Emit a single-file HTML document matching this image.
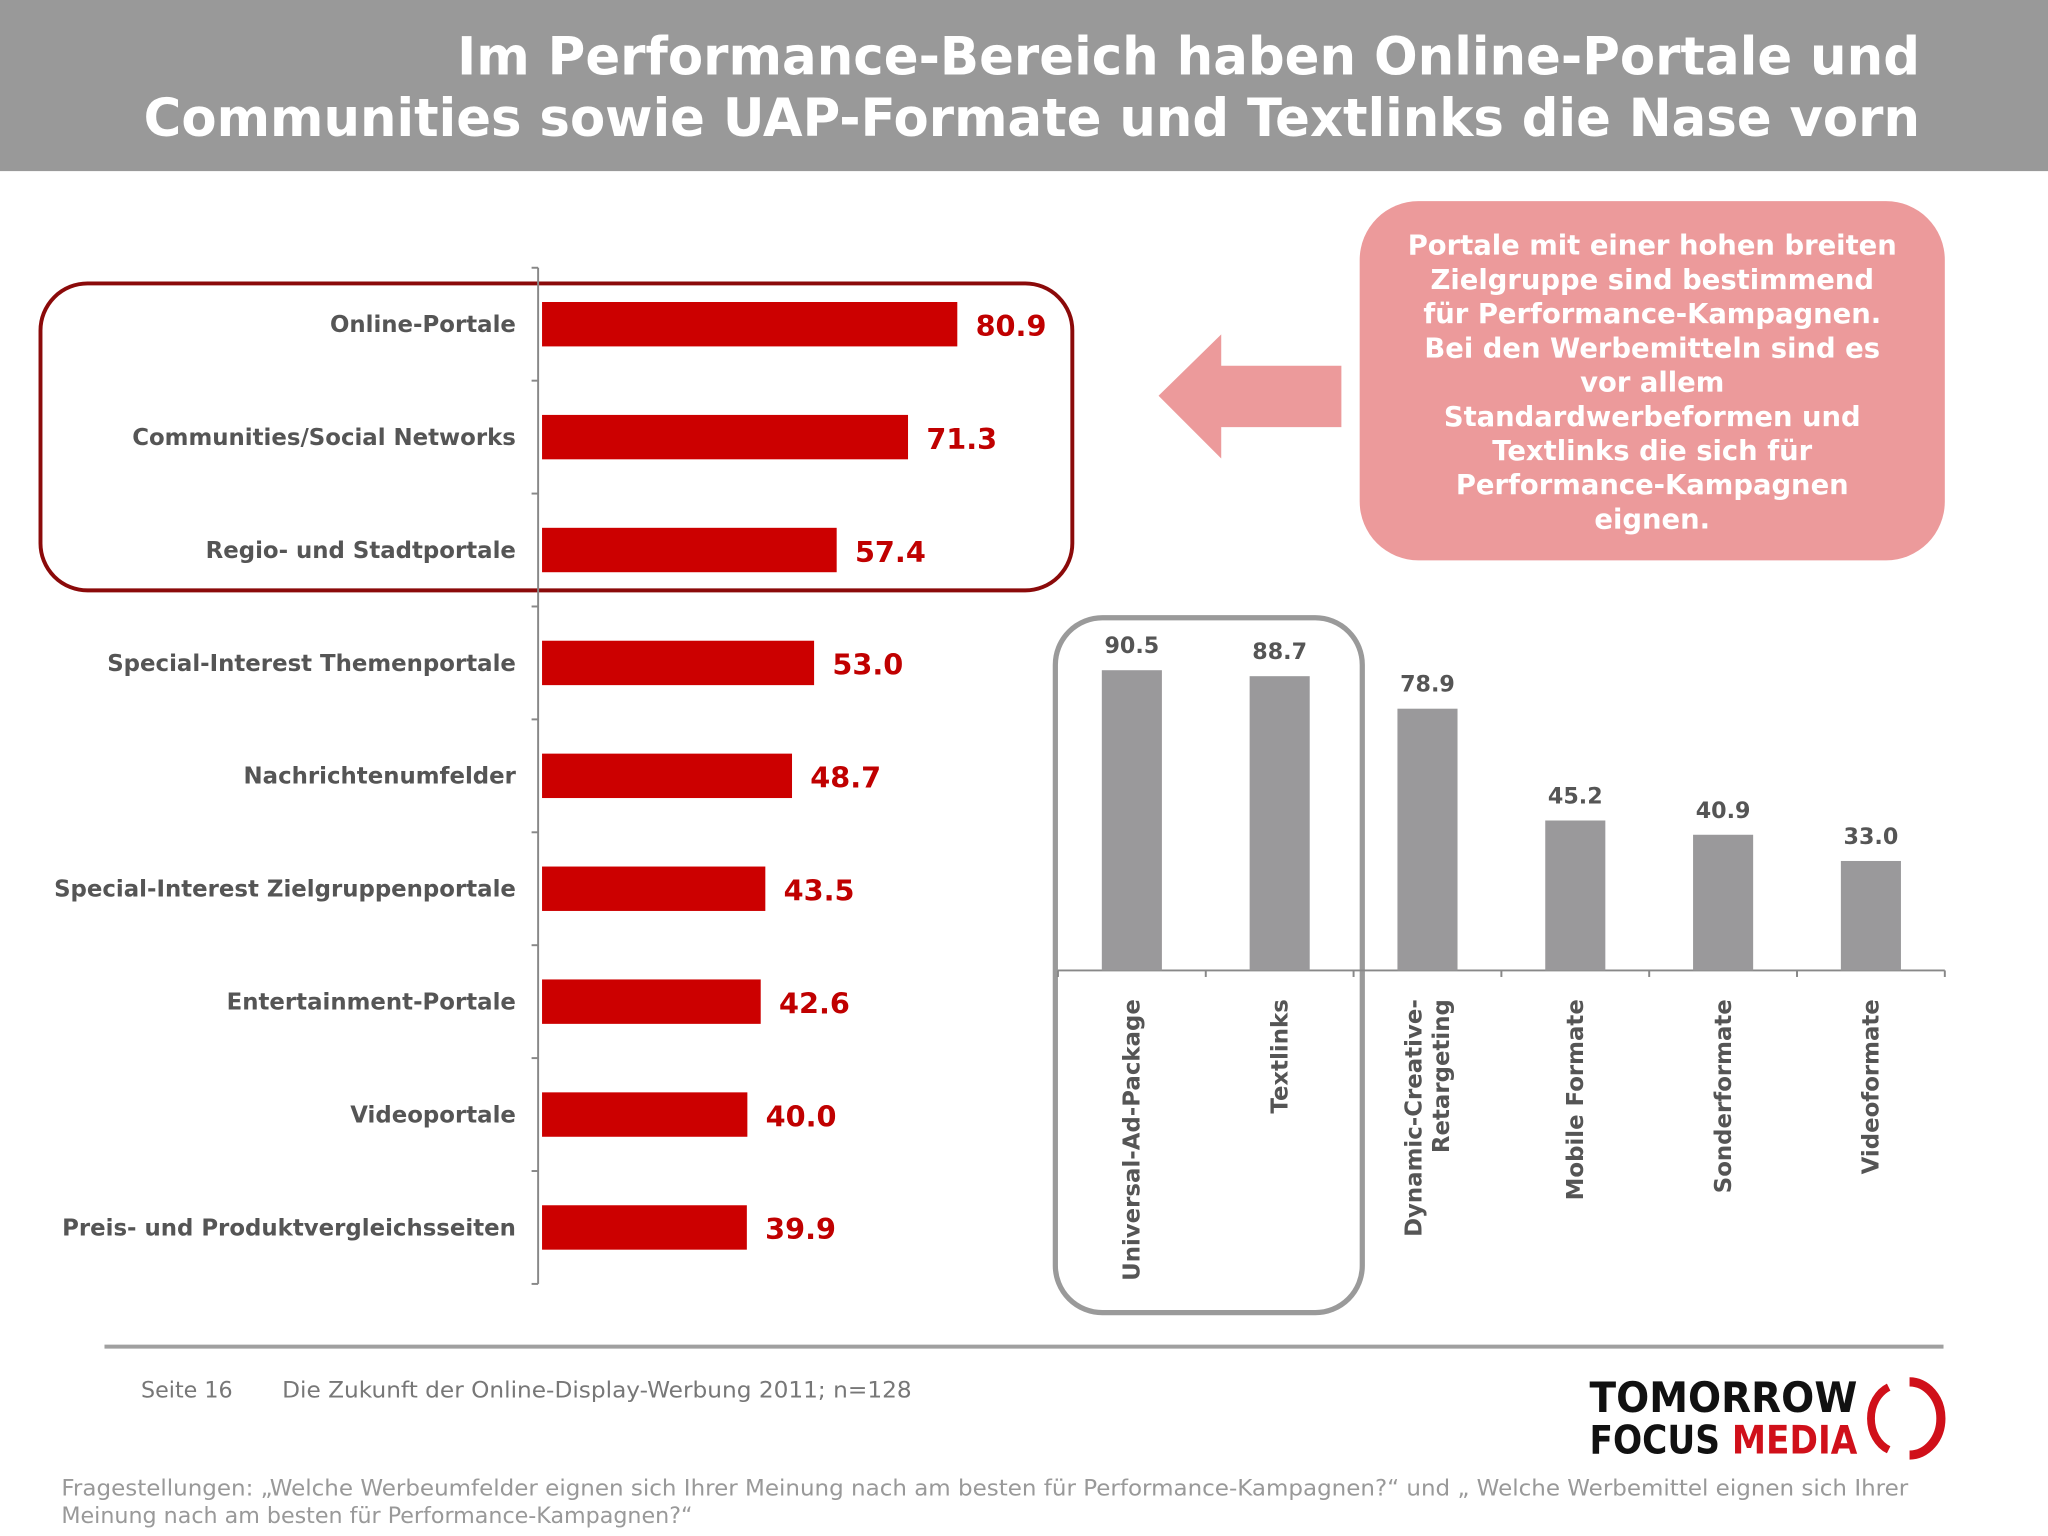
<!DOCTYPE html>
<html><head><meta charset="utf-8"><style>
html,body{margin:0;padding:0;background:#fff;}
svg{display:block;}
text{font-family:"DejaVu Sans","Liberation Sans",sans-serif;}
</style></head><body>
<svg id="s" width="2048" height="1536" viewBox="0 0 1568 1176" xmlns="http://www.w3.org/2000/svg">
<rect x="0" y="0" width="1568" height="131" fill="#999999"/>
<text x="1470" y="57" text-anchor="end" font-size="40" font-weight="bold" fill="#fff" textLength="1120" lengthAdjust="spacingAndGlyphs">Im Performance-Bereich haben Online-Portale und</text>
<text x="1470" y="104" text-anchor="end" font-size="40" font-weight="bold" fill="#fff" textLength="1360" lengthAdjust="spacingAndGlyphs">Communities sowie UAP-Formate und Textlinks die Nase vorn</text>

<rect x="31" y="217" width="790" height="235" rx="36" fill="none" stroke="#8b0a0a" stroke-width="3"/>
<rect x="1041" y="154" width="448" height="275" rx="45" fill="#ec9a9b"/>
<g id="callout" font-size="21" font-weight="bold" fill="#fff" text-anchor="middle"></g>
<polygon points="887,303 935,256 935,280 1027,280 1027,327 935,327 935,351" fill="#ec9a9b"/>
<rect x="808" y="473" width="235" height="532" rx="36" fill="none" stroke="#9a9a9a" stroke-width="4"/>

<g id="left"></g>
<g id="right"></g>

<line x1="80" y1="1031" x2="1488" y2="1031" stroke="#a0a0a0" stroke-width="3"/>
<text x="108" y="1070" font-size="17" fill="#777" font-family="Liberation Sans">Seite 16</text>
<text x="216" y="1070" font-size="17" fill="#777" font-family="Liberation Sans" textLength="482" lengthAdjust="spacingAndGlyphs">Die Zukunft der Online-Display-Werbung 2011; n=128</text>
<text x="1217" y="1081" font-size="32" font-weight="bold" fill="#111" textLength="205" lengthAdjust="spacingAndGlyphs" font-family="Liberation Sans">TOMORROW</text>
<text x="1217" y="1113" font-size="30" font-weight="bold" fill="#111" textLength="205" lengthAdjust="spacingAndGlyphs" font-family="Liberation Sans">FOCUS <tspan fill="#d0101a">MEDIA</tspan></text>
<path d="M1446,1062 A22,26 0 0 0 1446,1110" fill="none" stroke="#d0101a" stroke-width="6"/>
<path d="M1462,1058 A24,28 0 0 1 1462,1114" fill="none" stroke="#d0101a" stroke-width="7"/>
<text x="47" y="1145" font-size="17" fill="#999" font-family="Liberation Sans" textLength="1414" lengthAdjust="spacingAndGlyphs">Fragestellungen: „Welche Werbeumfelder eignen sich Ihrer Meinung nach am besten für Performance-Kampagnen?“ und „ Welche Werbemittel eignen sich Ihrer</text>
<text x="47" y="1166" font-size="17" fill="#999" font-family="Liberation Sans">Meinung nach am besten für Performance-Kampagnen?“</text>
</svg>
<script>
const leftCategories=["Online-Portale","Communities/Social Networks","Regio- und Stadtportale","Special-Interest Themenportale","Nachrichtenumfelder","Special-Interest Zielgruppenportale","Entertainment-Portale","Videoportale","Preis- und Produktvergleichsseiten"];
const leftValues=[80.9,71.3,57.4,53.0,48.7,43.5,42.6,40.0,39.9];
const rightCategories=[["Universal-Ad-Package"],["Textlinks"],["Dynamic-Creative-","Retargeting"],["Mobile Formate"],["Sonderformate"],["Videoformate"]];
const rightValues=[90.5,88.7,78.9,45.2,40.9,33.0];
const calloutLines=["Portale mit einer hohen breiten","Zielgruppe sind bestimmend","für Performance-Kampagnen.","Bei den Werbemitteln sind es","vor allem","Standardwerbeformen und","Textlinks die sich für","Performance-Kampagnen","eignen."];
const NS="http://www.w3.org/2000/svg";
function mk(p,t,a){const e=document.createElementNS(NS,t);for(const k in a)e.setAttribute(k,a[k]);p.appendChild(e);return e;}
const co=document.getElementById('callout');
calloutLines.forEach((l,i)=>{const t=mk(co,'text',{x:1265,y:195+i*26.2});t.textContent=l;

});
const L=document.getElementById('left');
const x0=415,top0=205,bot0=983,band=(bot0-top0)/leftCategories.length;
const xs=v=>x0+v*3.93;
const yc=i=>top0+band*(i+0.5);
const ax=mk(L,'line',{x1:412,y1:top0,x2:412,y2:bot0,stroke:'#888','stroke-width':1.5});


for(let i=0;i<=leftCategories.length;i++){const tk=mk(L,'line',{x1:407,y1:top0+band*i,x2:412,y2:top0+band*i,stroke:'#888','stroke-width':1.5});

}
leftCategories.forEach((c,i)=>{
const r=mk(L,'rect',{x:x0,y:yc(i)-17,width:xs(leftValues[i])-x0,height:34,fill:'#cc0000'});


const lb=mk(L,'text',{x:395,y:yc(i)+6,'text-anchor':'end','font-size':17.5,'font-weight':'bold',fill:'#555'});lb.textContent=c;


const v=mk(L,'text',{x:xs(leftValues[i])+14,y:yc(i)+9,'font-size':22,'font-weight':'bold',fill:'#c00000'});v.textContent=leftValues[i].toFixed(1);


});
const R=document.getElementById('right');
const rx0=810,rx1=1489,base=743,rb=(rx1-rx0)/rightCategories.length;
const ys=v=>base-v*2.54;
const xc=i=>rx0+rb*(i+0.5);
const bl=mk(R,'line',{x1:rx0,y1:base,x2:rx1,y2:base,stroke:'#888','stroke-width':1.5});


for(let i=0;i<=rightCategories.length;i++){const tk=mk(R,'line',{x1:rx0+rb*i,y1:base,x2:rx0+rb*i,y2:base+5,stroke:'#888','stroke-width':1.5});

}
rightCategories.forEach((c,i)=>{
const r=mk(R,'rect',{x:xc(i)-23,y:ys(rightValues[i]),width:46,height:base-ys(rightValues[i]),fill:'#9a999b'});


const v=mk(R,'text',{x:xc(i),y:ys(rightValues[i])-13,'text-anchor':'middle','font-size':17,'font-weight':'bold',fill:'#555'});v.textContent=rightValues[i].toFixed(1);


c.forEach((line,j)=>{const lx=xc(i)+6+(j-(c.length-1)/2)*21;
const t=mk(R,'text',{x:0,y:0,transform:`translate(${lx},765) rotate(-90)`,'text-anchor':'end','font-size':17.5,'font-weight':'bold',fill:'#555'});t.textContent=line;

});
});
</script>
</body></html>
